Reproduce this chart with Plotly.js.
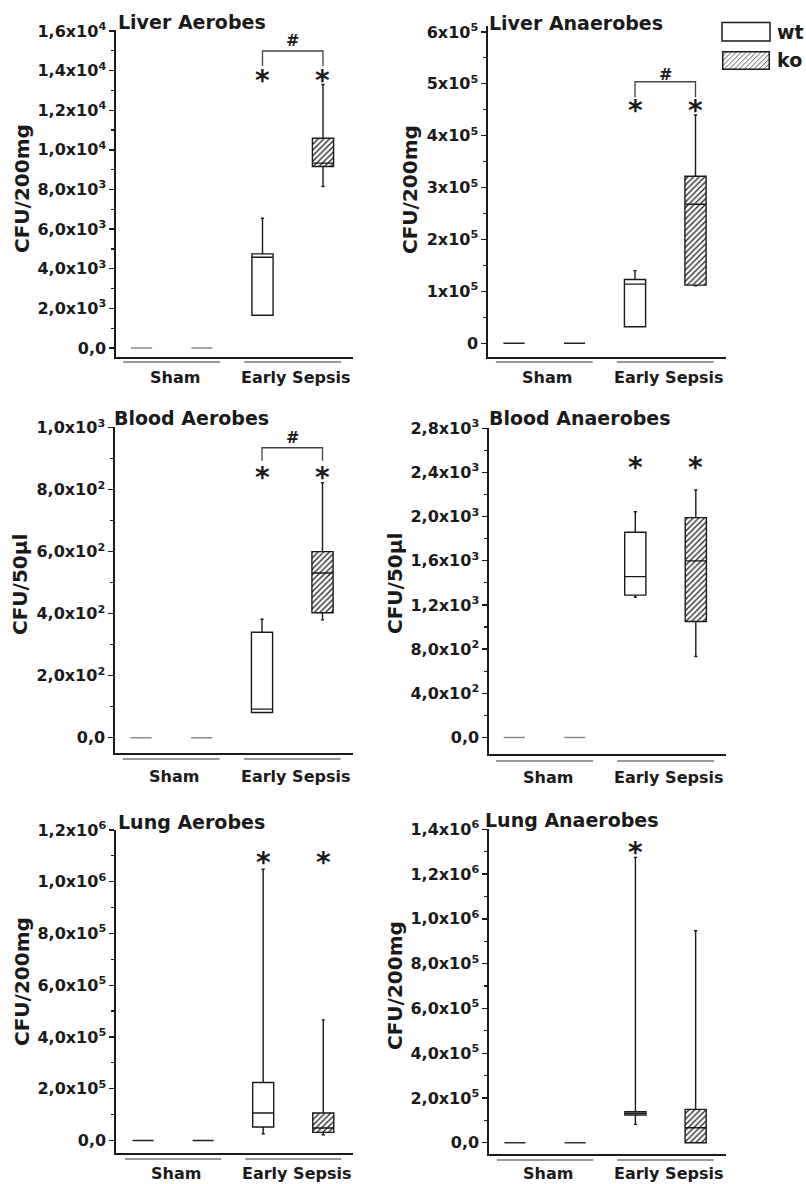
<!DOCTYPE html>
<html><head><meta charset="utf-8">
<script src="https://cdn.plot.ly/plotly-3.0.1.min.js"></script>
<style>html,body{margin:0;padding:0;background:#fff}#chart{width:806px;height:1184px}</style>
</head><body><div id="chart"></div>
<script>
// Box order in every panel: [Sham wt, Sham ko, Early Sepsis wt, Early Sepsis ko]
const groupLabels = ['Sham', 'Early Sepsis'];
const seriesNames = ['wt', 'ko'];
const boxPositions = [1, 2, 3, 4];

// Liver Aerobes (CFU/200mg)
const liverAerQ1 = [0, 0, 1650, 9160];
const liverAerMedian = [0, 0, 4580, 9330];
const liverAerQ3 = [0, 0, 4750, 10590];
const liverAerLow = [0, 0, 1650, 8150];
const liverAerHigh = [0, 0, 6550, 13300];
const liverAerStars = [13680, 13680];
const liverAerBracket = [14230, 14990, 15500];
const liverAerTickVals = [0, 2000, 4000, 6000, 8000, 10000, 12000, 14000, 16000];
const liverAerTickText = ['0,0', '2,0x10<sup>3</sup>', '4,0x10<sup>3</sup>', '6,0x10<sup>3</sup>', '8,0x10<sup>3</sup>', '1,0x10<sup>4</sup>', '1,2x10<sup>4</sup>', '1,4x10<sup>4</sup>', '1,6x10<sup>4</sup>'];

// Liver Anaerobes (CFU/200mg)
const liverAnaQ1 = [0, 0, 32000, 112000];
const liverAnaMedian = [0, 0, 114000, 268000];
const liverAnaQ3 = [0, 0, 123000, 322000];
const liverAnaLow = [0, 0, 32000, 111000];
const liverAnaHigh = [0, 0, 140000, 440000];
const liverAnaStars = [457000, 457000];
const liverAnaBracket = [474000, 504000, 517000];
const liverAnaTickVals = [0, 100000, 200000, 300000, 400000, 500000, 600000];
const liverAnaTickText = ['0', '1x10<sup>5</sup>', '2x10<sup>5</sup>', '3x10<sup>5</sup>', '4x10<sup>5</sup>', '5x10<sup>5</sup>', '6x10<sup>5</sup>'];

// Blood Aerobes (CFU/50µl)
const bloodAerQ1 = [0, 0, 81, 403];
const bloodAerMedian = [0, 0, 92, 531];
const bloodAerQ3 = [0, 0, 340, 600];
const bloodAerLow = [0, 0, 81, 380];
const bloodAerHigh = [0, 0, 382, 822];
const bloodAerStars = [853, 853];
const bloodAerBracket = [893, 935, 967];
const bloodAerTickVals = [0, 200, 400, 600, 800, 1000];
const bloodAerTickText = ['0,0', '2,0x10<sup>2</sup>', '4,0x10<sup>2</sup>', '6,0x10<sup>2</sup>', '8,0x10<sup>2</sup>', '1,0x10<sup>3</sup>'];

// Blood Anaerobes (CFU/50µl)
const bloodAnaQ1 = [0, 0, 1289, 1050];
const bloodAnaMedian = [0, 0, 1457, 1599];
const bloodAnaQ3 = [0, 0, 1859, 1991];
const bloodAnaLow = [0, 0, 1270, 733];
const bloodAnaHigh = [0, 0, 2045, 2242];
const bloodAnaStars = [2483, 2483];
const bloodAnaTickVals = [0, 400, 800, 1200, 1600, 2000, 2400, 2800];
const bloodAnaTickText = ['0,0', '4,0x10<sup>2</sup>', '8,0x10<sup>2</sup>', '1,2x10<sup>3</sup>', '1,6x10<sup>3</sup>', '2,0x10<sup>3</sup>', '2,4x10<sup>3</sup>', '2,8x10<sup>3</sup>'];

// Lung Aerobes (CFU/200mg)
const lungAerQ1 = [0, 0, 51700, 31000];
const lungAerMedian = [0, 0, 105800, 47900];
const lungAerQ3 = [0, 0, 224000, 105800];
const lungAerLow = [0, 0, 25900, 22000];
const lungAerHigh = [0, 0, 1048000, 466000];
const lungAerStars = [1091000, 1091000];
const lungAerTickVals = [0, 200000, 400000, 600000, 800000, 1000000, 1200000];
const lungAerTickText = ['0,0', '2,0x10<sup>5</sup>', '4,0x10<sup>5</sup>', '6,0x10<sup>5</sup>', '8,0x10<sup>5</sup>', '1,0x10<sup>6</sup>', '1,2x10<sup>6</sup>'];

// Lung Anaerobes (CFU/200mg)
const lungAnaQ1 = [0, 0, 123800, 0];
const lungAnaMedian = [0, 0, 131000, 67000];
const lungAnaQ3 = [0, 0, 138500, 149000];
const lungAnaLow = [0, 0, 82000, 0];
const lungAnaHigh = [0, 0, 1275000, 947000];
const lungAnaStars = [1315000];
const lungAnaTickVals = [0, 200000, 400000, 600000, 800000, 1000000, 1200000, 1400000];
const lungAnaTickText = ['0,0', '2,0x10<sup>5</sup>', '4,0x10<sup>5</sup>', '6,0x10<sup>5</sup>', '8,0x10<sup>5</sup>', '1,0x10<sup>6</sup>', '1,2x10<sup>6</sup>', '1,4x10<sup>6</sup>'];

// ---- panel setup (data references + geometry in pixels) ----
const W = 806, H = 1184;
const panels = [
  {title: 'Liver Aerobes', ytitle: 'CFU/200mg', q1: liverAerQ1, med: liverAerMedian, q3: liverAerQ3, lo: liverAerLow, hi: liverAerHigh,
   stars: liverAerStars, bracket: liverAerBracket, tv: liverAerTickVals, tt: liverAerTickText, minor: 1000,
   dx: [116, 353], dy: [30, 357], xr: [0.5785, 4.496], yr: [-454, 16050], sham: '#8a8a8a',
   tpos: [116, 22], ypos: [22, 189], uy: 362, ly: 377},
  {title: 'Liver Anaerobes', ytitle: 'CFU/200mg', q1: liverAnaQ1, med: liverAnaMedian, q3: liverAnaQ3, lo: liverAnaLow, hi: liverAnaHigh,
   stars: liverAnaStars, bracket: liverAnaBracket, tv: liverAnaTickVals, tt: liverAnaTickText, minor: 50000,
   dx: [488, 726], dy: [26, 357], xr: [0.570, 4.504], yr: [-26400, 611400], sham: '#222',
   tpos: [487, 23], ypos: [410, 190], uy: 362, ly: 377},
  {title: 'Blood Aerobes', ytitle: 'CFU/50µl', q1: bloodAerQ1, med: bloodAerMedian, q3: bloodAerQ3, lo: bloodAerLow, hi: bloodAerHigh,
   stars: bloodAerStars, bracket: bloodAerBracket, tv: bloodAerTickVals, tt: bloodAerTickText, minor: 100,
   dx: [115, 353], dy: [427, 753], xr: [0.570, 4.504], yr: [-49.4, 1002], sham: '#8a8a8a',
   tpos: [112, 418], ypos: [20, 585], uy: 759, ly: 776},
  {title: 'Blood Anaerobes', ytitle: 'CFU/50µl', q1: bloodAnaQ1, med: bloodAnaMedian, q3: bloodAnaQ3, lo: bloodAnaLow, hi: bloodAnaHigh,
   stars: bloodAnaStars, bracket: null, tv: bloodAnaTickVals, tt: bloodAnaTickText, minor: 200,
   dx: [489, 726], dy: [428, 754], xr: [0.582, 4.499], yr: [-150, 2803], sham: '#8a8a8a',
   tpos: [487, 418], ypos: [395, 584], uy: 761, ly: 777},
  {title: 'Lung Aerobes', ytitle: 'CFU/200mg', q1: lungAerQ1, med: lungAerMedian, q3: lungAerQ3, lo: lungAerLow, hi: lungAerHigh,
   stars: lungAerStars, bracket: null, tv: lungAerTickVals, tt: lungAerTickText, minor: 100000,
   dx: [116, 353], dy: [830, 1153], xr: [0.55, 4.495], yr: [-48700, 1200000], sham: '#222',
   tpos: [116, 822], ypos: [22, 982], uy: 1159, ly: 1173},
  {title: 'Lung Anaerobes', ytitle: 'CFU/200mg', q1: lungAnaQ1, med: lungAnaMedian, q3: lungAnaQ3, lo: lungAnaLow, hi: lungAnaHigh,
   stars: lungAnaStars, bracket: null, tv: lungAnaTickVals, tt: lungAnaTickText, minor: 100000,
   dx: [489, 726], dy: [829, 1154], xr: [0.569, 4.504], yr: [-50500, 1401600], sham: '#333',
   tpos: [483, 820], ypos: [395, 986], uy: 1160, ly: 1173}
];

const FONT = '"DejaVu Sans", Verdana, sans-serif';
const INK = '#1a1a1a';
const px = v => v / W;
const py = v => 1 - v / H;

const data = [];
const layout = {
  width: W, height: H, margin: {l: 0, r: 0, t: 0, b: 0},
  paper_bgcolor: '#fff', plot_bgcolor: 'rgba(0,0,0,0)',
  showlegend: false, barmode: 'overlay', boxmode: 'overlay',
  font: {family: FONT, color: INK, weight: 'bold'},
  annotations: [], shapes: [], images: []
};

panels.forEach((p, i) => {
  const s = i === 0 ? '' : String(i + 1);
  const xa = 'x' + s, ya = 'y' + s;
  layout['xaxis' + s] = {
    domain: [px(p.dx[0]), px(p.dx[1])], range: p.xr, anchor: ya,
    showline: true, linecolor: INK, linewidth: 1.6, showgrid: false, zeroline: false,
    ticks: '', showticklabels: false, fixedrange: true
  };
  layout['yaxis' + s] = {
    domain: [py(p.dy[1]), py(p.dy[0])], range: p.yr, anchor: xa,
    showline: true, linecolor: INK, linewidth: 1.6, showgrid: false, zeroline: false,
    tickmode: 'array', tickvals: p.tv, ticktext: p.tt,
    ticks: 'outside', ticklen: 5, tickwidth: 1.3, tickcolor: INK,
    tickfont: {family: FONT, size: 16, color: INK, weight: 'bold'},
    minor: {tickmode: 'linear', tick0: 0, dtick: p.minor, ticks: 'outside', ticklen: 3, tickwidth: 1.2, tickcolor: INK},
    fixedrange: true
  };
  const common = {type: 'box', xaxis: xa, yaxis: ya, boxpoints: false, width: 0.35, whiskerwidth: 0.15, hoverinfo: 'skip'};
  // sham boxes (wt, ko)
  data.push(Object.assign({}, common, {
    x: boxPositions.slice(0, 2), q1: p.q1.slice(0, 2), median: p.med.slice(0, 2), q3: p.q3.slice(0, 2),
    lowerfence: p.lo.slice(0, 2), upperfence: p.hi.slice(0, 2),
    line: {color: p.sham, width: 1.5}, fillcolor: 'rgba(0,0,0,0)'
  }));
  // early sepsis wt
  data.push(Object.assign({}, common, {
    x: [boxPositions[2]], q1: [p.q1[2]], median: [p.med[2]], q3: [p.q3[2]],
    lowerfence: [p.lo[2]], upperfence: [p.hi[2]],
    line: {color: INK, width: 1.4}, fillcolor: '#fff'
  }));
  // early sepsis ko: hatched body as bar, outline as box
  data.push({
    type: 'bar', xaxis: xa, yaxis: ya, x: [boxPositions[3]], base: [p.q1[3]], y: [p.q3[3] - p.q1[3]],
    width: 0.35, hoverinfo: 'skip',
    marker: {color: '#fff', line: {width: 0}, pattern: {shape: '/', size: 4, solidity: 0.33, fgcolor: '#222', bgcolor: '#fff'}}
  });
  data.push(Object.assign({}, common, {
    x: [boxPositions[3]], q1: [p.q1[3]], median: [p.med[3]], q3: [p.q3[3]],
    lowerfence: [p.lo[3]], upperfence: [p.hi[3]],
    line: {color: INK, width: 1.4}, fillcolor: 'rgba(0,0,0,0)'
  }));

  // panel title
  layout.annotations.push({text: p.title, xref: 'paper', yref: 'paper', x: px(p.tpos[0]), y: py(p.tpos[1]),
    xanchor: 'left', yanchor: 'middle', showarrow: false, font: {size: 19, color: INK, weight: 'bold'}});
  // y title
  layout.annotations.push({text: p.ytitle, xref: 'paper', yref: 'paper', x: px(p.ypos[0]), y: py(p.ypos[1]),
    xanchor: 'center', yanchor: 'middle', textangle: -90, showarrow: false, font: {size: 20, color: INK, weight: 'bold'}});
  // group labels + underlines
  const gx = [[0.7, 2.3, 1.55], [2.7, 4.3, 3.55]];
  groupLabels.forEach((g, k) => {
    layout.annotations.push({text: g, xref: xa, yref: 'paper', x: gx[k][2], y: py(p.ly),
      xanchor: 'center', yanchor: 'middle', showarrow: false, font: {size: 16, color: INK, weight: 'bold'}});
    layout.shapes.push({type: 'line', xref: xa, yref: 'paper', x0: gx[k][0], x1: gx[k][1], y0: py(p.uy), y1: py(p.uy),
      line: {color: '#333', width: 1.2}});
  });
  // significance asterisks
  p.stars.forEach((v, k) => {
    layout.annotations.push({text: '*', xref: xa, yref: ya, x: boxPositions[2 + k], y: v,
      xanchor: 'center', yanchor: 'middle', yshift: -4, showarrow: false, font: {size: 28, color: INK, weight: 'bold'}});
  });
  if (p.bracket) {
    const [b0, b1, bh] = p.bracket;
    layout.shapes.push({type: 'path', xref: xa, yref: ya,
      path: `M${boxPositions[2]},${b0} V${b1} H${boxPositions[3]} V${b0}`,
      line: {color: '#444', width: 1.3}});
    layout.annotations.push({text: '#', xref: xa, yref: ya, x: (boxPositions[2] + boxPositions[3]) / 2, y: bh,
      xanchor: 'center', yanchor: 'middle', showarrow: false, font: {size: 16, color: INK, weight: 'bold'}});
  }
});

// legend (top right)
layout.shapes.push({type: 'rect', xref: 'paper', yref: 'paper', x0: px(722), x1: px(770), y0: py(41), y1: py(22.5),
  line: {color: INK, width: 1.5}, fillcolor: '#fff'});
const hatchSvg = "<svg xmlns='http://www.w3.org/2000/svg' width='48' height='19'><defs><pattern id='p' width='3.5' height='3.5' patternUnits='userSpaceOnUse' patternTransform='rotate(45)'><line x1='0' y1='0' x2='0' y2='3.5' stroke='#222' stroke-width='1.1'/></pattern></defs><rect x='0' y='0' width='48' height='19' fill='#fff'/><rect x='0.75' y='0.75' width='46.5' height='17.5' fill='url(#p)' stroke='#1a1a1a' stroke-width='1.5'/></svg>";
layout.images.push({source: 'data:image/svg+xml;base64,' + btoa(hatchSvg), xref: 'paper', yref: 'paper',
  x: px(722), y: py(51), sizex: px(48), sizey: 19 / H, sizing: 'stretch', xanchor: 'left', yanchor: 'top', layer: 'above'});
layout.annotations.push({text: seriesNames[0], xref: 'paper', yref: 'paper', x: px(775), y: py(32), xanchor: 'left', yanchor: 'middle',
  showarrow: false, font: {size: 19, color: INK, weight: 'bold'}});
layout.annotations.push({text: seriesNames[1], xref: 'paper', yref: 'paper', x: px(775), y: py(60), xanchor: 'left', yanchor: 'middle',
  showarrow: false, font: {size: 19, color: INK, weight: 'bold'}});

Plotly.newPlot('chart', data, layout, {staticPlot: true, displayModeBar: false});
</script></body></html>
